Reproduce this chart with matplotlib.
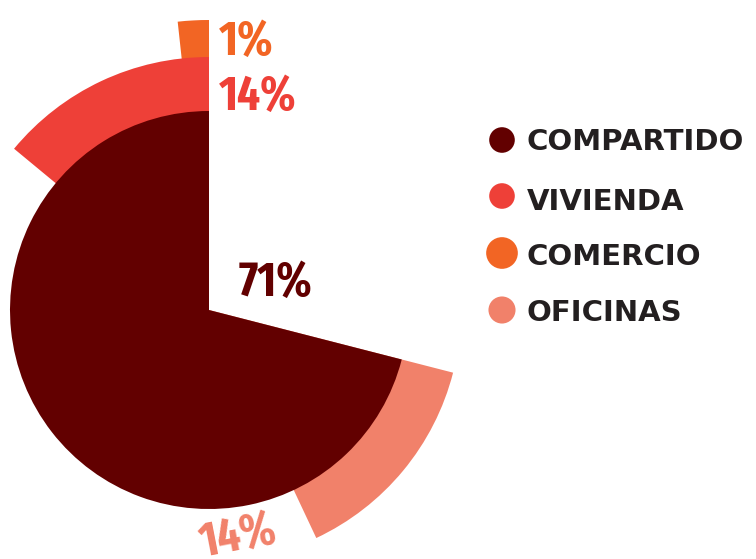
import matplotlib
matplotlib.use("Agg")
import matplotlib.pyplot as plt
from matplotlib.patches import Wedge
from matplotlib import font_manager as fm

# data
categories = ["COMPARTIDO", "VIVIENDA", "COMERCIO", "OFICINAS"]
values = [71, 14, 1, 14]
colors = ["#620000", "#EE4038", "#F26524", "#F1816A"]
pct_labels = ["71%", "14%", "1%", "14%"]


def pick_narrow_bold():
    # look for the narrowest bold face among installed fonts
    files = [f.fname for f in fm.fontManager.ttflist]
    names = [p.split("/")[-1].lower().replace("-", "").replace("_", "").replace(" ", "")
             for p in files]
    for key, size in [("extracondensedbold.", 35), ("sansnarrowbold.", 30),
                      ("condensedbold.", 30), ("condensedbold", 30)]:
        for full, name in zip(files, names):
            if key in name and "italic" not in name and "oblique" not in name:
                return fm.FontProperties(fname=full), size
    return fm.FontProperties(family=["Liberation Sans", "DejaVu Sans"], weight="bold"), 26


narrow, pct_size = pick_narrow_bold()

W, H = 756, 559
fig = plt.figure(figsize=(W / 100, H / 100), dpi=100)
ax = fig.add_axes([0, 0, 1, 1])
ax.set_xlim(0, W)
ax.set_ylim(H, 0)
ax.axis("off")

# pie axes (y up), same pixel scale
pax = fig.add_axes([0, 0, 1, 1])
pax.set_xlim(0, W)
pax.set_ylim(0, H)
pax.axis("off")

cx, cy = 209, H - 310
deg = [v * 3.6 for v in values]
min_deg = 6.2  # smallest slices drawn a bit wider so they stay visible
deg = [max(d, min_deg) for d in deg]

start_big = 90
end_big = start_big + deg[0]

radii = {"COMPARTIDO": 199, "VIVIENDA": 253, "COMERCIO": 290, "OFICINAS": 252}
spans = {
    "COMPARTIDO": (start_big, end_big),
    "VIVIENDA": (90, 90 + deg[1]),
    "COMERCIO": (90, 90 + deg[2]),
    "OFICINAS": (end_big - deg[3], end_big),
}
draw_order = ["COMERCIO", "VIVIENDA", "OFICINAS", "COMPARTIDO"]
for name in draw_order:
    i = categories.index(name)
    t1, t2 = spans[name]
    pax.add_patch(Wedge((cx, cy), radii[name], t1, t2, facecolor=colors[i],
                        edgecolor="none"))

def pct_text(x, y, s, c, **kw):
    fp = narrow.copy()
    fp.set_size(pct_size)
    ax.text(x, y, s, color=c, fontproperties=fp, **kw)

pct_text(239, 296, pct_labels[0], colors[0], ha="left", va="baseline")
pct_text(219, 110, pct_labels[1], colors[1], ha="left", va="baseline")
pct_text(219, 55, pct_labels[2], colors[2], ha="left", va="baseline")
pct_text(238, 537, pct_labels[3], colors[3], ha="center", va="center", rotation=11)

# legend
leg_y = [140, 196, 253, 310]
leg_text_y = [142, 202, 257, 313]
leg_sizes = [340, 340, 520, 380]
for i, name in enumerate(categories):
    ax.scatter(502, leg_y[i], s=leg_sizes[i], color=colors[i], edgecolors="none")
    ax.text(527, leg_text_y[i], name, color="#231F20", fontsize=21,
            fontweight="bold", family="DejaVu Sans", ha="left", va="center")

fig.savefig("out.png", dpi=100)
